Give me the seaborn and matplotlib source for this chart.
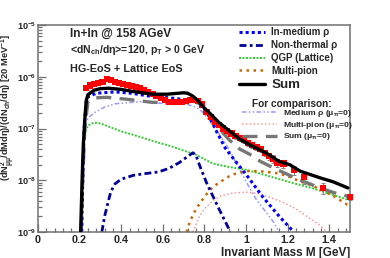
import pandas as pd
import seaborn as sns
import matplotlib
matplotlib.use("Agg")
import matplotlib.pyplot as plt
from matplotlib.lines import Line2D
from matplotlib.ticker import MultipleLocator, LogLocator, NullFormatter, FuncFormatter, LogFormatterSciNotation

# ---- model curves ----
med_m = [0.21, 0.215, 0.222, 0.23, 0.24, 0.28, 0.37, 0.45, 0.54, 0.635, 0.73, 0.78, 0.80, 0.83, 0.86, 0.90, 0.95, 1.00, 1.08, 1.16, 1.23]
med_y = [1e-9, 1e-8, 1e-7, 3e-7, 4.1e-7, 4.8e-7, 5.1e-7, 4.8e-7, 4.2e-7, 3.9e-7, 3.5e-7, 3.0e-7, 2.6e-7, 1.5e-7, 8.5e-8, 4.2e-8, 2.3e-8, 1.3e-8, 4.8e-9, 2.0e-9, 1.0e-9]

nth_m = [0.307, 0.32, 0.335, 0.35, 0.37, 0.40, 0.46, 0.52, 0.58, 0.63, 0.68, 0.72, 0.745, 0.76, 0.78, 0.81, 0.84, 0.87, 0.90, 0.925]
nth_y = [1e-9, 2e-9, 3.5e-9, 6e-9, 8.5e-9, 1.05e-8, 1.25e-8, 1.35e-8, 1.45e-8, 1.7e-8, 2.2e-8, 2.9e-8, 3.4e-8, 3.0e-8, 1.8e-8, 9e-9, 5e-9, 2.8e-9, 1.6e-9, 1e-9]

qgp_m = [0.215, 0.225, 0.24, 0.27, 0.30, 0.35, 0.40, 0.46, 0.52, 0.58, 0.62, 0.68, 0.76, 0.84, 0.92, 1.00, 1.08, 1.16, 1.24, 1.32, 1.40, 1.49]
qgp_y = [3e-8, 8e-8, 1.15e-7, 1.3e-7, 1.25e-7, 1.05e-7, 8.8e-8, 7.5e-8, 6.3e-8, 5.3e-8, 4.8e-8, 4.0e-8, 3.1e-8, 2.1e-8, 1.8e-8, 1.6e-8, 1.3e-8, 1.05e-8, 8.5e-9, 7e-9, 5.5e-9, 4.2e-9]

mpi_m = [0.715, 0.73, 0.76, 0.80, 0.84, 0.88, 0.92, 0.96, 1.00, 1.06, 1.12, 1.16, 1.20, 1.26, 1.32, 1.37, 1.42, 1.49]
mpi_y = [1e-9, 1.6e-9, 2.8e-9, 4.8e-9, 7.4e-9, 9.5e-9, 1.2e-8, 1.4e-8, 1.5e-8, 1.5e-8, 1.42e-8, 1.35e-8, 1.2e-8, 9.5e-9, 7.8e-9, 6.3e-9, 5e-9, 3.3e-9]

sum_m = [0.205, 0.212, 0.218, 0.225, 0.232, 0.24, 0.27, 0.30, 0.34, 0.40, 0.47, 0.55, 0.62, 0.70, 0.72, 0.745, 0.77, 0.795, 0.83, 0.87, 0.92, 0.97, 1.02, 1.10, 1.16, 1.21, 1.26, 1.36, 1.42, 1.49]
sum_y = [1e-9, 1e-8, 5e-8, 1.5e-7, 3.5e-7, 4.5e-7, 5.5e-7, 5.9e-7, 6.0e-7, 5.7e-7, 5.1e-7, 4.6e-7, 4.6e-7, 4.9e-7, 4.8e-7, 4.2e-7, 3.4e-7, 2.6e-7, 1.9e-7, 1.3e-7, 9e-8, 6.2e-8, 4.8e-8, 3.3e-8, 2.3e-8, 2.0e-8, 1.5e-8, 1.1e-8, 9.3e-9, 7.1e-9]

# mu_pi = 0 comparison curves
med0_m = [0.212, 0.22, 0.23, 0.24, 0.27, 0.32, 0.37, 0.45, 0.50, 0.56, 0.65, 0.72, 0.76, 0.79, 0.82, 0.86, 0.91, 0.97, 1.01, 1.05, 1.09, 1.13, 1.16]
med0_y = [1e-9, 5e-8, 1.2e-7, 1.6e-7, 2.0e-7, 2.6e-7, 3.0e-7, 3.2e-7, 3.3e-7, 3.1e-7, 3.0e-7, 2.9e-7, 2.6e-7, 2.1e-7, 1.5e-7, 9e-8, 4.5e-8, 1.6e-8, 8e-9, 4.2e-9, 2.6e-9, 1.6e-9, 1.0e-9]

mpi0_m = [0.745, 0.77, 0.80, 0.84, 0.88, 0.93, 1.00, 1.06, 1.12, 1.18, 1.24, 1.30, 1.35, 1.39]
mpi0_y = [1e-9, 1.8e-9, 2.8e-9, 4e-9, 5e-9, 5.6e-9, 5.9e-9, 5.5e-9, 4.6e-9, 3.7e-9, 2.8e-9, 1.9e-9, 1.4e-9, 1e-9]

sum0_m = [0.208, 0.215, 0.225, 0.24, 0.27, 0.33, 0.42, 0.55, 0.65, 0.72, 0.75, 0.77, 0.80, 0.84, 0.88, 0.92, 0.97, 1.03, 1.07, 1.15, 1.25, 1.36, 1.42, 1.49]
sum0_y = [1e-9, 1e-8, 1e-7, 3.3e-7, 3.9e-7, 4.0e-7, 3.7e-7, 3.2e-7, 3.2e-7, 3.4e-7, 3.4e-7, 3.2e-7, 2.3e-7, 1.4e-7, 9e-8, 6e-8, 4e-8, 3e-8, 2.3e-8, 1.6e-8, 1.05e-8, 7e-9, 5.8e-9, 4.9e-9]

# ---- NA60 data points ----
data_m = [0.23, 0.25, 0.27, 0.29, 0.31, 0.33, 0.35, 0.37, 0.39, 0.41, 0.43, 0.45, 0.47, 0.49, 0.51, 0.53,
          0.55, 0.57, 0.59, 0.61, 0.63, 0.65, 0.67, 0.69, 0.71, 0.73, 0.75, 0.77, 0.79, 0.81, 0.83, 0.85,
          0.87, 0.89, 0.91, 0.93, 0.95, 0.97, 0.99, 1.01, 1.03, 1.05, 1.07, 1.09, 1.11, 1.13, 1.15, 1.18,
          1.23, 1.28, 1.37, 1.50]
data_y = [6.0e-7, 6.8e-7, 7.2e-7, 7.6e-7, 8.0e-7, 9.0e-7, 8.6e-7, 8.0e-7, 7.6e-7, 7.3e-7, 7.0e-7, 6.6e-7, 6.3e-7, 6.0e-7, 5.5e-7, 5.1e-7,
          4.7e-7, 4.3e-7, 3.9e-7, 3.5e-7, 3.3e-7, 3.2e-7, 3.2e-7, 3.3e-7, 3.4e-7, 3.5e-7, 3.6e-7, 3.4e-7, 2.9e-7, 2.1e-7, 1.65e-7, 1.35e-7,
          1.15e-7, 1.0e-7, 8.8e-8, 8.0e-8, 7.2e-8, 6.5e-8, 5.9e-8, 5.3e-8, 4.8e-8, 4.4e-8, 4.0e-8, 3.4e-8, 2.9e-8, 2.6e-8, 2.2e-8, 2.1e-8,
          1.6e-8, 1.15e-8, 7.2e-9, 4.8e-9]
data_relerr = [0.06, 0.06, 0.06, 0.06, 0.06, 0.06, 0.06, 0.06, 0.06, 0.06, 0.06, 0.06, 0.06, 0.06, 0.06, 0.06,
               0.06, 0.06, 0.06, 0.06, 0.06, 0.06, 0.06, 0.06, 0.06, 0.06, 0.06, 0.06, 0.07, 0.08, 0.08, 0.09,
               0.09, 0.10, 0.10, 0.10, 0.11, 0.11, 0.12, 0.12, 0.13, 0.13, 0.14, 0.15, 0.15, 0.16, 0.17, 0.18,
               0.20, 0.25, 0.25, 0.15]

sns.set_style("ticks")
plt.rcParams['font.family'] = ['Liberation Sans', 'DejaVu Sans']
plt.rcParams['font.weight'] = 'bold'
plt.rcParams['mathtext.fontset'] = 'custom'
plt.rcParams['mathtext.rm'] = 'Liberation Sans:bold'
plt.rcParams['mathtext.bf'] = 'Liberation Sans:bold'
plt.rcParams['mathtext.it'] = 'Liberation Sans:bold:italic'
plt.rcParams['mathtext.default'] = 'bf'

fig = plt.figure(figsize=(3.9, 2.58), dpi=100)
ax = fig.add_axes([38 / 390, 1 - 232 / 258, 312 / 390, 207 / 258])

styles = {
    "In-medium ρ": dict(color="#0000ff", lw=2.2, ls=(0, (1, 1))),
    "Non-thermal ρ": dict(color="#000099", lw=2.0, ls=(0, (2.5, 1.2, 1, 1.2))),
    "QGP (Lattice)": dict(color="#33cc33", lw=1.4, ls=(0, (1, 0.8))),
    "Multi-pion": dict(color="#cc6600", lw=1.8, ls=(0, (1, 1.8))),
    "Sum": dict(color="black", lw=2.4, ls="-"),
    "Medium ρ (μ$_{π}$=0)": dict(color="#9999ff", lw=1.1, ls=(0, (3, 1.5, 1, 1.5, 1, 1.5))),
    "Multi-pion (μ$_{π}$=0)": dict(color="#ff9999", lw=1.1, ls=(0, (1, 1.5))),
    "Sum (μ$_{π}$=0)": dict(color="#777777", lw=2.4, ls=(0, (4.5, 2.5))),
}
curves = [
    ("Medium ρ (μ$_{π}$=0)", med0_m, med0_y),
    ("Multi-pion (μ$_{π}$=0)", mpi0_m, mpi0_y),
    ("QGP (Lattice)", qgp_m, qgp_y),
    ("Multi-pion", mpi_m, mpi_y),
    ("Non-thermal ρ", nth_m, nth_y),
    ("Sum (μ$_{π}$=0)", sum0_m, sum0_y),
    ("In-medium ρ", med_m, med_y),
]

for name, m, y in curves:
    sns.lineplot(x=m, y=y, ax=ax, sort=False, estimator=None, zorder=2, **styles[name])

# data with error bars
df = pd.DataFrame({"m": data_m, "y": data_y, "rel": data_relerr})
ax.errorbar(df["m"], df["y"], yerr=df["y"] * df["rel"], fmt="none", ecolor="#888888",
            elinewidth=0.8, capsize=1.5, capthick=0.8, zorder=2.5, clip_on=False)
sns.scatterplot(data=df, x="m", y="y", ax=ax, marker="s", s=20, color="#ff0000",
                edgecolor="none", zorder=2.6, clip_on=False)

sns.lineplot(x=sum_m, y=sum_y, ax=ax, sort=False, estimator=None, zorder=3, **styles["Sum"])

ax.set_yscale("log")
ax.set_xlim(0, 1.5)
ax.set_ylim(1e-9, 1e-5)

# axis styling (ROOT-like)
for side in ["left", "bottom", "top", "right"]:
    ax.spines[side].set_color("#707070")
    ax.spines[side].set_linewidth(1.1)
ax.xaxis.set_major_locator(MultipleLocator(0.2))
ax.xaxis.set_minor_locator(MultipleLocator(0.04))
ax.xaxis.set_major_formatter(FuncFormatter(lambda v, p: "%g" % round(v, 2)))
ax.yaxis.set_major_locator(LogLocator(base=10))
ax.yaxis.set_minor_locator(LogLocator(base=10, subs=range(2, 10)))
ax.yaxis.set_major_formatter(LogFormatterSciNotation())
ax.yaxis.set_minor_formatter(NullFormatter())
ax.tick_params(which="both", direction="in", top=False, right=False, color="#707070",
               labelsize=7.8, width=0.9)
ax.tick_params(axis="y", labelsize=6.6, pad=1.0)
ax.tick_params(which="major", length=6)
ax.tick_params(axis="x", which="major", pad=2)
ax.tick_params(which="minor", length=3)

ax.set_xlabel("Invariant Mass M [GeV]", fontsize=8.5, fontweight="bold", ha="right")
ax.xaxis.set_label_coords(1.0, -0.072)
ax.set_ylabel("(dN$^{2}_{μμ}$/dMdη)/(dN$_{ch}$/dη) [20 MeV$^{-1}$]", fontsize=6.7,
              fontweight="bold")
ax.yaxis.set_label_coords(-0.066, 0.6)

# annotations
ax.text(0.103, 0.957, "In+In @ 158 AGeV", transform=ax.transAxes, fontsize=8.6,
        fontweight="bold", va="center")
ax.text(0.103, 0.879, "<dN$_{ch}$/dη>=120, p$_{T}$ > 0 GeV", transform=ax.transAxes,
        fontsize=7.6, fontweight="bold", va="center")
ax.text(0.103, 0.787, "HG-EoS + Lattice EoS", transform=ax.transAxes, fontsize=7.8,
        fontweight="bold", va="center")

# legends
names1 = ["In-medium ρ", "Non-thermal ρ", "QGP (Lattice)", "Multi-pion", "Sum"]
h1 = [Line2D([], [], **styles[n]) for n in names1]
leg1 = ax.legend(h1, names1, loc="upper left", bbox_to_anchor=(0.645, 0.99), frameon=False,
                 fontsize=7.0, handlelength=2.6, handletextpad=0.7, labelspacing=0.3,
                 borderpad=0, borderaxespad=0)
leg1.get_texts()[4].set_fontsize(9.6)
ax.add_artist(leg1)

ax.text(0.686, 0.618, "For comparison:", transform=ax.transAxes, fontsize=7.3,
        fontweight="bold", va="center")
names2 = ["Medium ρ (μ$_{π}$=0)", "Multi-pion (μ$_{π}$=0)", "Sum (μ$_{π}$=0)"]
h2 = [Line2D([], [], **styles[n]) for n in names2]
ax.legend(h2, names2, loc="upper left", bbox_to_anchor=(0.654, 0.6), frameon=False,
          fontsize=6.1, handlelength=4.1, handletextpad=0.7, labelspacing=0.1,
          borderpad=0, borderaxespad=0)

fig.savefig("out.png", dpi=100)
